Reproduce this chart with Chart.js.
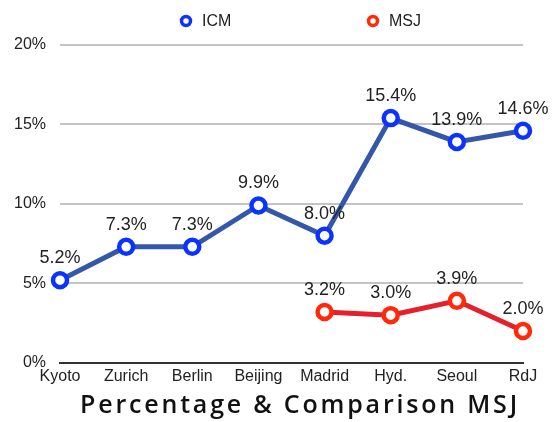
<!DOCTYPE html>
<html>
<head>
<meta charset="utf-8">
<script src="https://cdn.jsdelivr.net/npm/chart.js@4.4.0/dist/chart.umd.min.js"></script>
<style>
  html, body { margin: 0; padding: 0; background: #fff; }
  #wrap { width: 558px; height: 422px; }
</style>
</head>
<body>
<div id="wrap"><canvas id="chart" width="558" height="422"></canvas></div>
<script>
// 資料
var cities = ['Kyoto', 'Zurich', 'Berlin', 'Beijing', 'Madrid', 'Hyd.', 'Seoul', 'RdJ'];
var icmValues = [5.2, 7.3, 7.3, 9.9, 8.0, 15.4, 13.9, 14.6];
var msjValues = [null, null, null, null, 3.2, 3.0, 3.9, 2.0];
var yTicks = [0, 5, 10, 15, 20];

var textFont = "'Liberation Sans', Arial, sans-serif";

// 數值標籤 (畫在點上方)
var valueLabels = {
  id: 'valueLabels',
  afterDatasetsDraw: function(chart) {
    var ctx = chart.ctx;
    ctx.save();
    ctx.font = '18px ' + textFont;
    ctx.fillStyle = '#222';
    ctx.textAlign = 'center';
    ctx.textBaseline = 'middle';
    chart.data.datasets.forEach(function(ds, i) {
      var meta = chart.getDatasetMeta(i);
      meta.data.forEach(function(pt, j) {
        var v = ds.data[j];
        if (v === null) return;
        ctx.fillText(v.toFixed(1) + '%', pt.x, pt.y - 22);
      });
    });
    ctx.restore();
  }
};

// 自訂圖例 (項目間距較寬)
var wideLegend = {
  id: 'wideLegend',
  afterDraw: function(chart) {
    var ctx = chart.ctx;
    var slots = [186, 373];
    ctx.save();
    ctx.font = '16px ' + textFont;
    ctx.textBaseline = 'middle';
    ctx.textAlign = 'left';
    chart.data.datasets.forEach(function(ds, i) {
      var x = slots[i], y = 21;
      ctx.beginPath();
      ctx.arc(x, y, 4.5, 0, Math.PI * 2);
      ctx.fillStyle = '#fff';
      ctx.fill();
      ctx.lineWidth = 3.5;
      ctx.strokeStyle = ds.pointBorderColor;
      ctx.stroke();
      ctx.fillStyle = '#222';
      ctx.fillText(ds.label, x + 16, y + 1);
    });
    ctx.restore();
  }
};

// 標題: 位置微調 + 字距
var titleShift = {
  id: 'titleShift',
  afterLayout: function(chart) {
    var t = chart.titleBlock;
    if (!t) return;
    var w = t.right - t.left;
    t.left = 300 - w / 2;
    t.right = 300 + w / 2;
    if (!t._spaced) {
      var orig = t.draw;
      t.draw = function() {
        var c = this.ctx;
        c.save();
        c.letterSpacing = '2.8px';
        orig.apply(this, arguments);
        c.restore();
      };
      t._spaced = true;
    }
  }
};

var ctx = document.getElementById('chart').getContext('2d');
new Chart(ctx, {
  type: 'line',
  data: {
    labels: cities,
    datasets: [{
      label: 'ICM',
      data: icmValues,
      borderColor: '#3557a9',
      borderWidth: 5,
      pointBorderColor: '#0b33ff',
      pointBackgroundColor: '#fff',
      pointRadius: 7,
      pointBorderWidth: 4.5,
      tension: 0
    }, {
      label: 'MSJ',
      data: msjValues,
      borderColor: '#e4202c',
      borderWidth: 5,
      pointBorderColor: '#ff2a0a',
      pointBackgroundColor: '#fff',
      pointRadius: 7,
      pointBorderWidth: 4.5,
      tension: 0
    }]
  },
  options: {
    responsive: false,
    animation: false,
    layout: { padding: { left: 0, right: 35, top: 45, bottom: 1 } },
    plugins: {
      legend: { display: false },
      tooltip: { enabled: false },
      title: {
        display: true,
        position: 'bottom',
        text: 'Percentage & Comparison MSJ',
        color: '#111',
        font: { family: "'Open Sans', 'Noto Sans', sans-serif", size: 25, weight: '600' },
        padding: { top: 1, bottom: 0 }
      }
    },
    scales: {
      x: {
        grid: { display: false, drawTicks: false },
        border: { display: true, color: '#333', width: 2 },
        ticks: {
          color: '#222',
          font: { family: textFont, size: 16 },
          padding: 4,
          autoSkip: false,
          maxRotation: 0
        }
      },
      y: {
        min: yTicks[0],
        max: yTicks[yTicks.length - 1],
        afterBuildTicks: function(axis) {
          axis.ticks = yTicks.map(function(v) { return { value: v }; });
        },
        grid: {
          drawTicks: false,
          lineWidth: 2,
          color: function(c) { return c.tick && c.tick.value === 0 ? 'rgba(0,0,0,0)' : '#c4c4c4'; }
        },
        border: { display: false },
        ticks: {
          color: '#222',
          font: { family: textFont, size: 16 },
          padding: 14,
          callback: function(v) { return v + '%'; }
        }
      }
    }
  },
  plugins: [valueLabels, wideLegend, titleShift]
});
</script>
</body>
</html>
